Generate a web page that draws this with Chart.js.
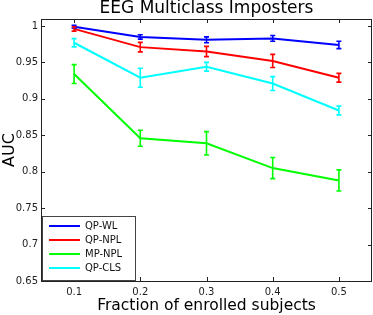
<!DOCTYPE html>
<html><head><meta charset="utf-8">
<script src="https://cdn.jsdelivr.net/npm/chart.js@4/dist/chart.umd.min.js"></script>
<style>html,body{margin:0;padding:0;background:#fff}#wrap{width:373px;height:315px}</style>
</head><body><div id="wrap"><canvas id="c" width="373" height="315"></canvas></div>
<script>
const chartTitle = "EEG Multiclass Imposters";
const fractions = [0.1, 0.2, 0.3, 0.4, 0.5];
const seriesNames = ["QP-WL", "QP-NPL", "MP-NPL", "QP-CLS"];
const qpWL = [0.999, 0.985, 0.981, 0.983, 0.974];
const qpWLErr = [0.002, 0.003, 0.004, 0.004, 0.005];
const qpNPL = [0.996, 0.971, 0.965, 0.952, 0.929];
const qpNPLErr = [0.003, 0.0065, 0.007, 0.009, 0.006];
const mpNPL = [0.934, 0.846, 0.839, 0.805, 0.788];
const mpNPLErr = [0.013, 0.011, 0.016, 0.0145, 0.0145];
const qpCLS = [0.977, 0.929, 0.944, 0.921, 0.884];
const qpCLSErr = [0.0057, 0.013, 0.006, 0.0095, 0.006];
const xTicks = [0.1, 0.2, 0.3, 0.4, 0.5];
const yTicks = [0.65, 0.7, 0.75, 0.8, 0.85, 0.9, 0.95, 1];
const colors = ["#0000ff", "#ff0000", "#00ff00", "#00ffff"];

const values = [qpWL, qpNPL, mpNPL, qpCLS];
const errs = [qpWLErr, qpNPLErr, mpNPLErr, qpCLSErr];

const datasets = seriesNames.map((n, i) => ({
  label: n,
  data: fractions.map((x, j) => ({x: x, y: values[i][j]})),
  err: errs[i],
  borderColor: colors[i],
  backgroundColor: colors[i],
  borderWidth: 2,
  pointRadius: 0,
  tension: 0
}));

const decor = {
  id: 'decor',
  beforeDatasetsDraw(chart) {
    const ctx = chart.ctx, a = chart.chartArea;
    const xs = chart.scales.x, ys = chart.scales.y;
    ctx.save();
    // title centred over plot area
    ctx.fillStyle = '#000';
    ctx.font = '17px "DejaVu Sans", sans-serif';
    ctx.textAlign = 'center';
    ctx.textBaseline = 'middle';
    ctx.fillText(chartTitle, (a.left + a.right) / 2, 9);
    ctx.strokeStyle = '#222';
    ctx.lineWidth = 1;
    ctx.strokeRect(Math.round(a.left)+0.5, Math.round(a.top)+0.5, Math.round(a.right-a.left)-1, Math.round(a.bottom-a.top));
    ctx.beginPath();
    xTicks.forEach(t => {
      const px = Math.round(xs.getPixelForValue(t))+0.5;
      ctx.moveTo(px, a.bottom); ctx.lineTo(px, a.bottom-4);
      ctx.moveTo(px, a.top); ctx.lineTo(px, a.top+4);
    });
    yTicks.forEach(t => {
      const py = Math.round(ys.getPixelForValue(t))+0.5;
      ctx.moveTo(a.left, py); ctx.lineTo(a.left+4, py);
      ctx.moveTo(a.right, py); ctx.lineTo(a.right-4, py);
    });
    ctx.stroke();
    ctx.restore();
  },
  afterDatasetsDraw(chart) {
    const ctx = chart.ctx, xs = chart.scales.x, ys = chart.scales.y;
    ctx.save();
    chart.data.datasets.forEach(ds => {
      ctx.strokeStyle = ds.borderColor;
      ctx.lineWidth = 1.6;
      ctx.beginPath();
      ds.data.forEach((p, j) => {
        const px = xs.getPixelForValue(p.x);
        const y1 = ys.getPixelForValue(p.y + ds.err[j]);
        const y2 = ys.getPixelForValue(p.y - ds.err[j]);
        ctx.moveTo(px, y1); ctx.lineTo(px, y2);
        ctx.moveTo(px-2.5, y1); ctx.lineTo(px+2.5, y1);
        ctx.moveTo(px-2.5, y2); ctx.lineTo(px+2.5, y2);
      });
      ctx.stroke();
    });
    // legend box
    const a = chart.chartArea;
    const bx = a.left + 1, by = a.bottom - 65, bw = 93, bh = 64;
    ctx.fillStyle = '#fff';
    ctx.fillRect(bx, by, bw, bh);
    ctx.strokeStyle = '#444';
    ctx.lineWidth = 1;
    ctx.strokeRect(bx+0.5, by+0.5, bw, bh);
    ctx.font = '10px "DejaVu Sans", sans-serif';
    ctx.textBaseline = 'middle';
    chart.data.datasets.forEach((ds, i) => {
      const yy = by + 10 + i * 14;
      ctx.strokeStyle = ds.borderColor;
      ctx.lineWidth = 2;
      ctx.beginPath(); ctx.moveTo(bx + 7, yy); ctx.lineTo(bx + 38, yy); ctx.stroke();
      ctx.fillStyle = '#111';
      ctx.fillText(ds.label, bx + 43, yy);
    });
    ctx.restore();
  }
};

new Chart(document.getElementById('c'), {
  type: 'line',
  data: { datasets },
  plugins: [decor],
  options: {
    responsive: false,
    animation: false,
    layout: { padding: { right: 1, left: 0, top: 19, bottom: 0 } },
    plugins: {
      legend: { display: false },
      tooltip: { enabled: false },
      title: { display: false }
    },
    scales: {
      x: {
        type: 'linear', min: 0.05, max: 0.55,
        afterBuildTicks: s => { s.ticks = xTicks.map(v => ({value: v})); },
        afterFit: s => { s.height = 34; },
        grid: { display: false, drawTicks: false },
        border: { display: false },
        ticks: { color: '#222', font: { family: '"DejaVu Sans", sans-serif', size: 10 }, padding: 5, maxRotation: 0,
          callback: v => String(v) },
        title: { display: true, text: 'Fraction of enrolled subjects', color: '#000',
          font: { family: '"DejaVu Sans", sans-serif', size: 15.5 }, padding: { top: 0, bottom: 0 } }
      },
      y: {
        type: 'linear', min: 0.65, max: 1.0096,
        afterBuildTicks: s => { s.ticks = yTicks.map(v => ({value: v})); },
        afterFit: s => { s.width = 41; },
        grid: { display: false, drawTicks: false },
        border: { display: false },
        ticks: { color: '#222', font: { family: '"DejaVu Sans", sans-serif', size: 10 }, padding: 3,
          callback: v => String(v) },
        title: { display: true, text: 'AUC', color: '#000',
          font: { family: '"DejaVu Sans", sans-serif', size: 16 }, padding: { top: 0, bottom: 0 } }
      }
    }
  }
});
</script></body></html>
